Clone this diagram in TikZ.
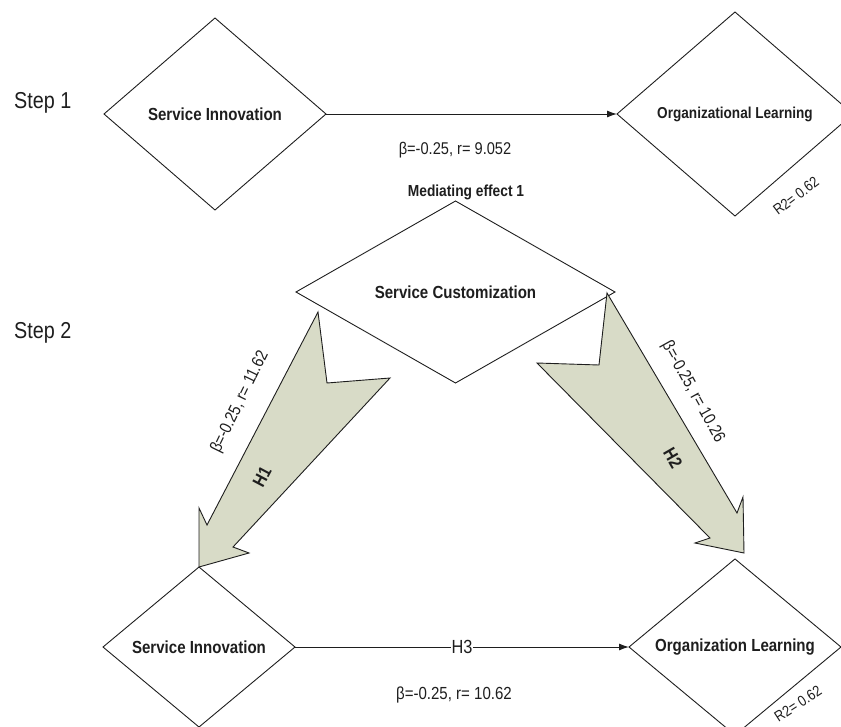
\documentclass[tikz,border=0pt]{standalone}
\usepackage{fontspec}
\setmainfont{Liberation Sans}[FakeStretch=0.86]
\usetikzlibrary{shapes.geometric,arrows.meta}
\definecolor{sage}{RGB}{216,219,199}
\definecolor{ink}{RGB}{30,30,30}
\tikzset{
  dbox/.style={diamond, draw=ink, line width=0.9pt, inner sep=0pt, outer sep=0pt,
    text=ink, font=\bfseries\fontsize{17.5}{20}\selectfont},
  arr/.style={draw=ink, line width=1pt, -{Latex[length=10pt,width=7pt]}},
  blk/.style={draw=ink, fill=sage, line width=0.9pt, line join=miter},
  lbl/.style={inner sep=0pt, text=ink, font=\fontsize{17}{20}\selectfont},
  blbl/.style={inner sep=0pt, text=ink, font=\bfseries\fontsize{17}{20}\selectfont},
  steplbl/.style={inner sep=0pt, text=ink, font=\fontsize{23}{26}\selectfont, anchor=base west}
}
\begin{document}
\begin{tikzpicture}[x=1pt,y=-1pt]
\useasboundingbox (0,0) rectangle (841,726);

% Step labels
\node[steplbl] (step1) at (14,108) {Step 1};
\node[steplbl] (step2) at (14,338) {Step 2};

% Step 1 diamonds
\node[dbox, minimum width=222pt, minimum height=192pt] (si1) at (215,114) {Service Innovation};
\node[dbox, minimum width=236pt, minimum height=204pt] (ol1) at (735,114)
  {\fontsize{15.8}{18}\selectfont Organizational Learning};
\draw[arr] (si1.east) -- (ol1.west);
\node[lbl] (b1) at (455,150) {β=-0.25, r= 9.052};
\node[blbl, font=\bfseries\fontsize{16}{18}\selectfont] (med) at (466,192) {Mediating effect 1};
\node[lbl, font=\fontsize{15}{17}\selectfont, rotate=37] (r2a) at (796,196) {R2= 0.62};

% Step 2 diamonds
\node[dbox, minimum width=319pt, minimum height=182pt] (sc) at (455.5,292) {Service Customization};
\node[dbox, minimum width=192pt, minimum height=160pt] (si2) at (199,647) {Service Innovation};
\node[dbox, minimum width=212pt, minimum height=162pt] (ol2) at (735,647) {Organization Learning};

% H1 block arrow
\draw[blk] (318,312) -- (327,383) -- (390,378) -- (233,547) -- (249,553)
  -- (si2.north) -- (199,508) -- (207,525) -- cycle;
% H2 block arrow
\draw[blk] (607,293) -- (737,513) -- (743,497) -- (744,553) -- (695,543)
  -- (710,538) -- (537,363) -- (599,365) -- cycle;

\node[lbl, font=\fontsize{17}{19}\selectfont, rotate=64] (b2) at (240,402) {β=-0.25, r= 11.62};
\node[blbl, font=\bfseries\fontsize{18}{20}\selectfont, rotate=62] (h1) at (262,477) {H1};
\node[lbl, font=\fontsize{17}{19}\selectfont, rotate=-61] (b3) at (693,392) {β=-0.25, r= 10.26};
\node[blbl, font=\bfseries\fontsize{18}{20}\selectfont, rotate=-60] (h2) at (673,458) {H2};

% H3 arrow
\draw[arr] (si2.east) -- node[lbl, fill=white, inner sep=1pt, font=\fontsize{19}{21}\selectfont] (h3) {H3} (ol2.west);
\node[lbl, font=\fontsize{17.5}{20}\selectfont] (b4) at (454,695) {β=-0.25, r= 10.62};
\node[lbl, font=\fontsize{15}{17}\selectfont, rotate=33] (r2b) at (798,704) {R2= 0.62};
\end{tikzpicture}
\end{document}
